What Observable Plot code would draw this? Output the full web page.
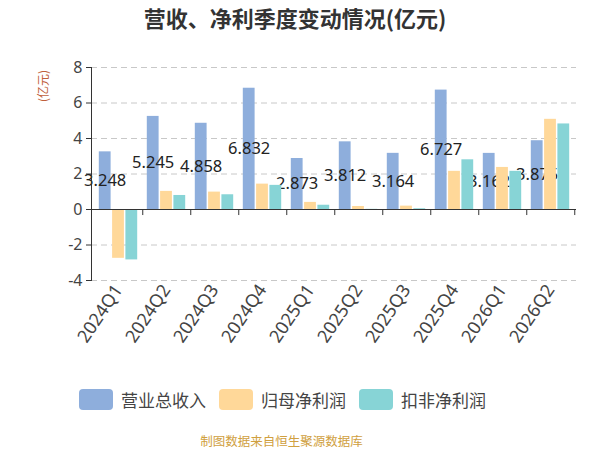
<!DOCTYPE html>
<html>
<head>
<meta charset="utf-8">
<script src="https://cdn.jsdelivr.net/npm/d3@7"></script>
<script src="https://cdn.jsdelivr.net/npm/@observablehq/plot@0.6"></script>
<style>
  html, body { margin: 0; padding: 0; background: #fff; }
  #wrap { position: relative; width: 600px; height: 450px; font-family: "Noto Sans", "Noto Sans CJK SC", sans-serif; overflow: hidden; }
  #title { position: absolute; top: 2px; left: 0; width: 590px; text-align: center; font-family: "Noto Sans CJK SC", sans-serif; font-weight: bold; font-size: 22px; line-height: 30px; color: #333; }
  #chart { position: absolute; top: 0; left: 0; }
  #ylab { position: absolute; left: 43px; top: 86px; transform: translate(-50%, -50%) rotate(-90deg); white-space: nowrap; font-family: "Noto Sans CJK SC", sans-serif; font-size: 12px; line-height: 14px; color: #c0603c; }
  #legend { position: absolute; top: 386px; left: 0; width: 600px; height: 26px; }
  .item { position: absolute; top: 0; display: flex; align-items: center; height: 26px; font-family: "Noto Sans CJK SC", sans-serif; font-size: 17px; color: #444; }
  .sw { width: 34px; height: 21px; border-radius: 4px; margin-right: 8px; }
  #caption { position: absolute; top: 435px; left: 0; width: 563px; text-align: center; font-family: "Noto Sans CJK SC", sans-serif; font-size: 12.5px; line-height: 12.5px; color: #d0a040; }
</style>
</head>
<body>
<div id="wrap">
  <div id="chart"></div>
  <div id="title"></div>
  <div id="ylab">(亿元)</div>
  <div id="legend"></div>
  <div id="caption">制图数据来自恒生聚源数据库</div>
</div>
<script>
const titleText = "营收、净利季度变动情况(亿元)";
const quarters = ["2024Q1","2024Q2","2024Q3","2024Q4","2025Q1","2025Q2","2025Q3","2025Q4","2026Q1","2026Q2"];
const seriesNames = ["营业总收入","归母净利润","扣非净利润"];
const seriesColors = ["#8eaedc","#ffd899","#87d4d6"];
const revenue = [3.248, 5.245, 4.858, 6.832, 2.873, 3.812, 3.164, 6.727, 3.162, 3.875];
const netProfit = [-2.75, 1.02, 0.98, 1.43, 0.40, 0.17, 0.19, 2.15, 2.37, 5.08];
const deductedProfit = [-2.84, 0.79, 0.83, 1.36, 0.24, 0.01, 0.04, 2.80, 2.15, 4.82];
const yTicks = [-4, -2, 0, 2, 4, 6, 8];

document.getElementById("title").textContent = titleText;

const seriesValues = [revenue, netProfit, deductedProfit];
const rows = seriesValues.map((vals, si) => quarters.map((q, qi) => ({quarter: q, series: seriesNames[si], value: vals[qi]})));

const W = 600, H = 370, mL = 91, mR = 24, mT = 67, mB = 90;
const bw = (W - mL - mR) / quarters.length;
const barW = 12.3, gap = 1;
const groupW = 3 * barW + 2 * gap;
const off0 = (bw - groupW) / 2;
const inset = i => ({insetLeft: off0 + i * (barW + gap), insetRight: bw - (off0 + i * (barW + gap) + barW)});
const font = '"Noto Sans", "Noto Sans CJK SC", sans-serif';

const barMark = i => Plot.barY(rows[i], {x: "quarter", y: "value", fill: seriesColors[i], ...inset(i)});

const chart = Plot.plot({
  width: W, height: H,
  marginLeft: mL, marginRight: mR, marginTop: mT, marginBottom: mB,
  style: {fontFamily: font, background: "transparent"},
  x: {type: "band", domain: quarters, padding: 0, axis: null},
  y: {domain: [-4, 8], axis: null},
  marks: [
    Plot.gridY(yTicks, {stroke: "#c8c8c8", strokeOpacity: 1, strokeDasharray: "6,4", strokeWidth: 1}),
    Plot.axisY(yTicks, {tickSize: 5, tickPadding: 4, fontSize: 16, color: "#444", stroke: "#333", tickFormat: d => String(d), label: null}),
    Plot.axisX({anchor: "bottom", tickSize: 0, tickPadding: 6, tickRotate: -56, fontSize: 18, color: "#444", label: null}),
    barMark(0),
    Plot.text(rows[0], {x: "quarter", y: d => d.value / 2, text: d => d.value.toFixed(3), dx: off0 + barW / 2 - bw / 2, fontSize: 16.5, fill: "#222"}),
    barMark(1),
    barMark(2),
    Plot.ruleY([0], {stroke: "#333", strokeWidth: 1}),
    Plot.ruleX(quarters, {x: d => d, dx: bw / 2, y1: 0, y2: -0.34, stroke: "#333"}),
    Plot.frame({anchor: "left", stroke: "#333"})
  ]
});
document.getElementById("chart").appendChild(chart);

const legend = document.getElementById("legend");
const lefts = [79, 219, 359];
seriesNames.forEach((n, i) => {
  const it = document.createElement("div");
  it.className = "item";
  it.style.left = lefts[i] + "px";
  const sw = document.createElement("div");
  sw.className = "sw";
  sw.style.background = seriesColors[i];
  const t = document.createElement("span");
  t.textContent = n;
  it.appendChild(sw); it.appendChild(t);
  legend.appendChild(it);
});
</script>
</body>
</html>
